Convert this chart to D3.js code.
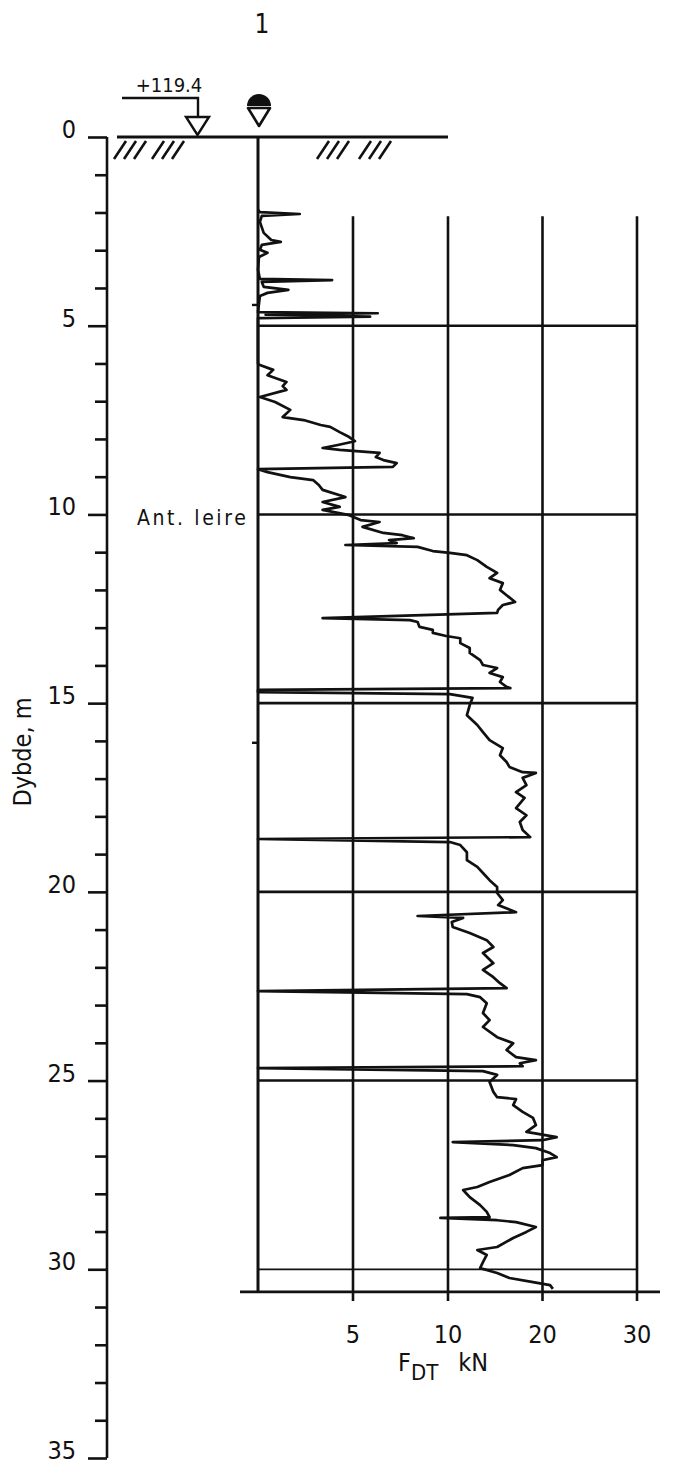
<!DOCTYPE html>
<html>
<head>
<meta charset="utf-8">
<script src="https://cdn.jsdelivr.net/npm/d3@7"></script>
<style>
  body { margin: 0; background: #fff; }
  text { font-family: "Liberation Sans Narrow", "DejaVu Sans Condensed", sans-serif; fill: #111; }
</style>
</head>
<body>
<div id="chart"></div>
<script>
// depth (m) and measured force F_DT (kN) along the sounding
var depth = [
  1.93,1.99,2.04,2.09,2.25,2.54,2.73,2.78,2.86,2.99,3.07,3.18,3.52,3.76,3.79,3.84,3.97,4.05,4.13,4.21,4.64,4.67,4.71,4.76,4.80,6.00,
  6.04,6.17,6.31,6.49,6.60,6.70,6.89,7.02,7.23,7.42,7.50,7.63,7.68,7.82,7.95,8.06,8.16,8.24,8.29,8.37,8.48,8.56,8.64,8.74,8.80,8.88,9.01,9.09,9.22,9.35,9.54,9.67,9.80,9.88,
  10.02,10.15,10.20,10.33,10.49,10.55,10.63,10.68,10.76,10.81,10.86,10.97,11.02,11.08,11.21,11.39,11.55,11.69,11.82,12.00,12.14,12.32,12.40,12.53,12.61,12.75,12.80,12.85,12.98,13.06,13.14,13.22,13.28,13.41,13.54,13.67,13.86,13.99,14.07,14.20,14.31,14.44,14.57,14.60,14.65,14.71,14.76,14.86,
  15.05,15.32,15.58,15.77,15.98,16.19,16.38,16.56,16.69,16.83,16.85,16.98,17.17,17.36,17.51,17.78,17.97,18.15,18.36,18.55,18.60,18.68,18.76,18.95,19.16,19.34,19.50,19.69,19.87,
  20.03,20.22,20.35,20.54,20.64,20.69,20.80,20.93,21.09,21.28,21.46,21.62,21.89,22.07,22.26,22.42,22.55,22.63,22.71,22.79,22.95,23.21,23.40,23.58,23.85,24.01,24.19,24.38,24.46,24.54,24.62,24.67,24.75,24.85,
  25.04,25.30,25.44,25.49,25.65,25.83,25.99,26.18,26.36,26.50,26.58,26.63,26.71,26.79,26.92,27.03,27.11,27.24,27.32,27.50,27.69,27.82,27.90,28.09,28.30,28.48,28.62,28.64,28.70,28.75,28.88,29.01,29.17,29.41,29.49,29.62,29.81,29.97,30.10,30.23,30.34,30.42,30.52
];
var force = [
  0,0.1,2.2,0.2,0.1,0.3,0.7,1.2,0.2,0.1,0.5,0.05,0,0.1,3.9,0.2,0.3,1.6,0.5,0.1,0,6.3,0.4,5.9,0,0,
  0.1,0.8,0.5,1.5,1.3,1.5,0.1,0.9,1.7,1.3,2.4,3.3,3.8,4.3,4.8,5.1,4.2,3.4,4.3,6.4,6.2,6.6,7.3,7.1,0,0.5,1.7,2.9,3.2,3.4,4.6,3.4,4.3,3.4,
  4.8,5.4,6.4,5.5,6.6,7.6,8.2,6.9,7.3,4.6,8.4,9.2,10.2,12.0,13.1,14.1,15.2,14.4,15.8,15.5,16.2,17.1,15.8,15.3,15.2,3.4,8.0,8.4,8.5,9.2,9.2,9.9,11.3,11.3,12.3,12.3,13.4,13.7,15.2,14.4,15.8,15.5,16.2,16.6,0,0,10.2,12.6,
  12.3,12.0,13.1,13.7,14.4,15.8,15.5,16.2,16.5,17.9,19.3,17.9,18.3,17.2,18.1,17.2,18.3,17.6,17.9,18.7,0,10.2,11.3,12.0,12.0,13.1,13.7,14.4,15.2,
  15.2,15.8,15.3,17.2,8.4,11.6,10.4,10.5,12.3,14.1,14.8,13.7,14.8,13.7,14.8,15.5,16.2,0,12.0,13.4,14.1,13.7,14.4,13.7,15.2,16.9,16.2,17.2,19.3,17.6,17.9,0,13.7,15.2,
  14.4,14.8,15.2,17.2,16.9,17.9,19.0,19.3,18.3,21.5,20.0,10.5,16.9,19.3,20.8,21.5,20.0,20.0,17.9,16.5,14.4,13.1,11.6,12.3,13.4,14.1,14.4,9.6,15.2,17.2,19.3,18.3,16.9,15.2,13.1,14.1,13.7,13.4,15.2,16.5,19.0,20.8,21.1
];

var depthTicks = d3.range(0, 36);
var depthLabels = [0, 5, 10, 15, 20, 25, 30, 35];
var forceTicks = [5, 10, 20, 30];
var gridDepths = [5, 10, 15, 20, 25, 30];
var probeMarks = [4.45, 16.05];
var groundLevel = "+119.4";
var boreholeName = "1";
var soilNote = { depth: 10, text: "Ant. leire" };

var W = 676, H = 1464;

var y = d3.scaleLinear().domain([0, 35]).range([137, 1458]);
// force axis is stretched 0-10 and compressed 10-30
var x = d3.scaleLinear().domain([0, 10, 30]).range([258, 448, 637]);

var svg = d3.select("#chart").append("svg")
    .attr("width", W)
    .attr("height", H)
    .style("background", "#fff");

var ink = "#111";
var gridTop = y(2.1), axisBottom = y(30.6);

// title
svg.append("text")
    .attr("x", 262).attr("y", 33)
    .attr("text-anchor", "middle")
    .style("font-size", "26px")
    .text(boreholeName);

// depth axis
var axisG = svg.append("g")
    .attr("transform", "translate(107,0)")
    .call(d3.axisLeft(y).tickValues(depthTicks).tickSize(12).tickFormat(""));
axisG.select(".domain").attr("d", "M0," + y(0) + "V" + y(35)).attr("stroke", ink).attr("stroke-width", 2.6);
axisG.selectAll(".tick line")
    .attr("stroke", ink).attr("stroke-width", 2.6)
    .attr("x2", function(d) { return d % 5 == 0 ? -19 : -12; });

// labels sit just above their tick
svg.selectAll(".dlabel").data(depthLabels).enter().append("text")
    .attr("class", "dlabel")
    .attr("x", 76)
    .attr("y", function(d) { return y(d) + 1; })
    .attr("text-anchor", "end")
    .style("font-size", "25px")
    .text(function(d) { return d; });

svg.append("text")
    .attr("transform", "translate(31,752) rotate(-90)")
    .attr("text-anchor", "middle")
    .style("font-size", "25px")
    .text("Dybde, m");

// ground surface
svg.append("line")
    .attr("x1", 117).attr("x2", 448)
    .attr("y1", y(0)).attr("y2", y(0))
    .attr("stroke", ink).attr("stroke-width", 2.8);

var hatchStarts = [114, 124, 134, 152, 162, 172, 317, 327, 337, 359, 369, 379];
svg.selectAll(".hatch").data(hatchStarts).enter().append("line")
    .attr("class", "hatch")
    .attr("x1", function(d) { return d; }).attr("y1", y(0) + 22)
    .attr("x2", function(d) { return d + 12; }).attr("y2", y(0) + 4)
    .attr("stroke", ink).attr("stroke-width", 2.6);

// ground level marker
svg.append("path")
    .attr("d", "M122,98H198V117")
    .attr("fill", "none").attr("stroke", ink).attr("stroke-width", 2.4);
svg.append("path")
    .attr("d", "M186,117H209L197.5,135Z")
    .attr("fill", "#fff").attr("stroke", ink).attr("stroke-width", 2.4);
svg.append("text")
    .attr("x", 169).attr("y", 92)
    .attr("text-anchor", "middle")
    .style("font-size", "20px")
    .text(groundLevel);

// probe symbol
svg.append("path")
    .attr("d", "M247,106A12,12 0 0 1 271,106Z")
    .attr("fill", ink);
svg.append("path")
    .attr("d", "M248,108H270L259,126Z")
    .attr("fill", "#fff").attr("stroke", ink).attr("stroke-width", 2.6)
    .attr("stroke-linejoin", "round");

// vertical grid lines with ticks below the bottom axis
svg.selectAll(".vgrid").data(forceTicks).enter().append("line")
    .attr("class", "vgrid")
    .attr("x1", function(d) { return x(d); }).attr("x2", function(d) { return x(d); })
    .attr("y1", gridTop).attr("y2", axisBottom + 9)
    .attr("stroke", ink).attr("stroke-width", 2.6);

// horizontal grid lines
svg.selectAll(".hgrid").data(gridDepths).enter().append("line")
    .attr("class", "hgrid")
    .attr("x1", x(0)).attr("x2", x(30))
    .attr("y1", function(d) { return y(d); }).attr("y2", function(d) { return y(d); })
    .attr("stroke", ink).attr("stroke-width", function(d) { return d == 30 ? 1.8 : 2.6; });

// probe line
svg.append("line")
    .attr("x1", x(0)).attr("x2", x(0))
    .attr("y1", y(0)).attr("y2", axisBottom)
    .attr("stroke", ink).attr("stroke-width", 3);

svg.selectAll(".pmark").data(probeMarks).enter().append("line")
    .attr("class", "pmark")
    .attr("x1", x(0) - 6).attr("x2", x(0))
    .attr("y1", function(d) { return y(d); }).attr("y2", function(d) { return y(d); })
    .attr("stroke", ink).attr("stroke-width", 2.4);

// bottom axis
svg.append("line")
    .attr("x1", 240).attr("x2", 660)
    .attr("y1", axisBottom).attr("y2", axisBottom)
    .attr("stroke", ink).attr("stroke-width", 2.8);

svg.selectAll(".flabel").data(forceTicks).enter().append("text")
    .attr("class", "flabel")
    .attr("x", function(d) { return x(d); })
    .attr("y", axisBottom + 51)
    .attr("text-anchor", "middle")
    .style("font-size", "25px")
    .text(function(d) { return d; });

var fl = svg.append("text")
    .attr("x", 398).attr("y", 1371)
    .style("font-size", "25px");
fl.append("tspan").text("F");
fl.append("tspan").attr("dy", 9).style("font-size", "22px").text("DT");
fl.append("tspan").attr("dy", -9).attr("dx", 20).text("kN");

// soil description
svg.append("text")
    .attr("x", 137).attr("y", y(soilNote.depth) + 11)
    .style("font-size", "21px")
    .style("letter-spacing", "2.6px")
    .text(soilNote.text);

// sounding curve
var pts = depth.map(function(d, i) { return [force[i], d]; });
var line = d3.line()
    .x(function(d) { return x(d[0]); })
    .y(function(d) { return y(d[1]); });

svg.append("path")
    .datum(pts)
    .attr("d", line)
    .attr("fill", "none")
    .attr("stroke", ink)
    .attr("stroke-width", 2.7)
    .attr("stroke-linejoin", "round");
</script>
</body>
</html>
